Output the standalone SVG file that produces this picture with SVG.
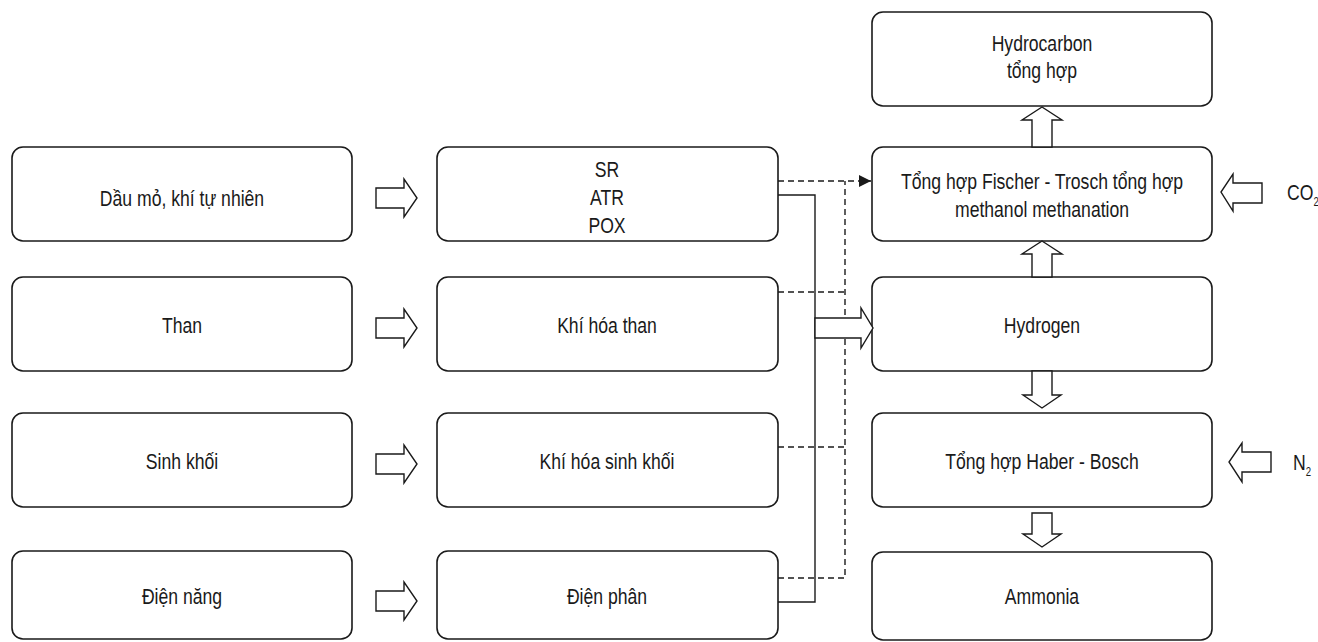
<svg xmlns="http://www.w3.org/2000/svg" width="1318" height="642" viewBox="0 0 1318 642">
<defs>
<style>
.box{fill:#fff;stroke:#1a1a1a;stroke-width:1.6}
.t{font-family:"Liberation Sans",Arial,sans-serif;font-size:22px;fill:#1a1a1a;text-anchor:middle}
.ts{text-anchor:start}
.sub{font-size:12px}
.blk{fill:#fff;stroke:#1a1a1a;stroke-width:1.4}
.ln{fill:none;stroke:#1a1a1a;stroke-width:1.4}
.dash{fill:none;stroke:#1a1a1a;stroke-width:1.4;stroke-dasharray:6 4}
</style>
<marker id="ah" viewBox="0 0 12 12" refX="12" refY="6" markerWidth="12" markerHeight="12" markerUnits="userSpaceOnUse" orient="auto">
<path d="M0,0 L12,6 L0,12 z" fill="#1a1a1a"/>
</marker>
</defs>

<g id="n-dau"><rect class="box" x="12" y="147" width="340" height="94" rx="11"/><text class="t" transform="translate(182,206) scale(0.8,1)">Dầu mỏ, khí tự nhiên</text></g>
<g id="n-than"><rect class="box" x="12" y="277" width="340" height="94" rx="11"/><text class="t" transform="translate(182,333) scale(0.8,1)">Than</text></g>
<g id="n-sinhkhoi"><rect class="box" x="12" y="413" width="340" height="94" rx="11"/><text class="t" transform="translate(182,469) scale(0.8,1)">Sinh khối</text></g>
<g id="n-diennang"><rect class="box" x="12" y="551" width="340" height="88" rx="11"/><text class="t" transform="translate(182,604) scale(0.8,1)">Điện năng</text></g>

<g id="n-sr"><rect class="box" x="437" y="147" width="341" height="94" rx="11"/><text class="t" transform="translate(607,177) scale(0.8,1)">SR</text><text class="t" transform="translate(607,205) scale(0.8,1)">ATR</text><text class="t" transform="translate(607,233) scale(0.8,1)">POX</text></g>
<g id="n-khihoathan"><rect class="box" x="437" y="277" width="341" height="94" rx="11"/><text class="t" transform="translate(607,333) scale(0.8,1)">Khí hóa than</text></g>
<g id="n-khihoasinhkhoi"><rect class="box" x="437" y="413" width="341" height="94" rx="11"/><text class="t" transform="translate(607,469) scale(0.8,1)">Khí hóa sinh khối</text></g>
<g id="n-dienphan"><rect class="box" x="437" y="551" width="341" height="88" rx="11"/><text class="t" transform="translate(607,604) scale(0.8,1)">Điện phân</text></g>

<g id="n-hydrocarbon"><rect class="box" x="872" y="12" width="340" height="94" rx="11"/><text class="t" transform="translate(1042,51) scale(0.8,1)">Hydrocarbon</text><text class="t" transform="translate(1042,78) scale(0.8,1)">tổng hợp</text></g>
<g id="n-fischer"><rect class="box" x="872" y="147" width="340" height="94" rx="11"/><text class="t" transform="translate(1042,189) scale(0.8,1)">Tổng hợp Fischer - Trosch tổng hợp</text><text class="t" transform="translate(1042,217) scale(0.8,1)">methanol methanation</text></g>
<g id="n-hydrogen"><rect class="box" x="872" y="277" width="340" height="94" rx="11"/><text class="t" transform="translate(1042,333) scale(0.8,1)">Hydrogen</text></g>
<g id="n-haber"><rect class="box" x="872" y="413" width="340" height="94" rx="11"/><text class="t" transform="translate(1042,469) scale(0.8,1)">Tổng hợp Haber - Bosch</text></g>
<g id="n-ammonia"><rect class="box" x="872" y="552" width="340" height="88" rx="11"/><text class="t" transform="translate(1042,604) scale(0.8,1)">Ammonia</text></g>

<g id="n-co2"><text class="t ts" transform="translate(1287,200) scale(0.8,1)">CO<tspan class="sub" dy="6">2</tspan></text></g>
<g id="n-n2"><text class="t ts" transform="translate(1293,470) scale(0.8,1)">N<tspan class="sub" dy="6">2</tspan></text></g>

<g id="connectors">
<polygon class="blk" points="376,188 404,188 404,179 417,198 404,217 404,208 376,208"/>
<polygon class="blk" points="376,318 404,318 404,309 417,328 404,347 404,338 376,338"/>
<polygon class="blk" points="376,454 404,454 404,445 417,464 404,483 404,474 376,474"/>
<polygon class="blk" points="376,591 404,591 404,582 417,601 404,620 404,611 376,611"/>

<polyline class="ln" points="778,195 815,195 815,602 778,602"/>
<line class="dash" x1="778" y1="292" x2="845" y2="292"/>
<line class="dash" x1="778" y1="447" x2="845" y2="447"/>
<polyline class="dash" points="778,578 845,578 845,181"/>
<line class="dash" x1="778" y1="181" x2="871" y2="181" marker-end="url(#ah)"/>

<polygon class="blk" points="815,318 861,318 861,308 873,328 861,348 861,338 815,338"/>

<polygon class="blk" points="1032,147 1032,120 1022,120 1042,107 1062,120 1052,120 1052,147"/>
<polygon class="blk" points="1032,277 1032,254 1022,254 1042,241 1062,254 1052,254 1052,277"/>
<polygon class="blk" points="1032,371 1032,395 1023,395 1042,408 1061,395 1052,395 1052,371"/>
<polygon class="blk" points="1032,513 1032,534 1023,534 1042,547 1061,534 1052,534 1052,513"/>

<polygon class="blk" points="1262,183 1233,183 1233,174 1221,192 1233,211 1233,203 1262,203"/>
<polygon class="blk" points="1271,452 1242,452 1242,443 1229,462 1242,482 1242,472 1271,472"/>
</g>
</svg>
